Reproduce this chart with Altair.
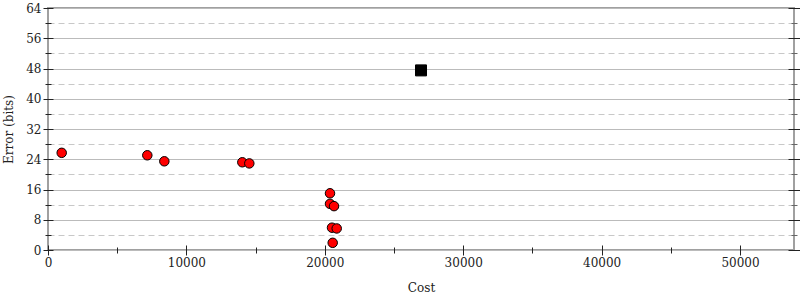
import altair as alt
import pandas as pd

# data
cost = [990, 7175, 8405, 14040, 14545, 20375, 20375, 20665, 20520, 20860, 20570]
error = [25.7, 25.05, 23.46, 23.2, 22.9, 15.0, 12.2, 11.6, 5.9, 5.7, 1.9]
sq_cost = [26950]
sq_error = [47.5]

x_major = [0, 10000, 20000, 30000, 40000, 50000]
x_minor = [5000, 15000, 25000, 35000, 45000]
y_major = [0, 8, 16, 24, 32, 40, 48, 56, 64]
y_minor = [4, 12, 20, 28, 36, 44, 52, 60]

pts = pd.DataFrame({"Cost": cost, "Error": error})
sq = pd.DataFrame({"Cost": sq_cost, "Error": sq_error})

FONT = "DejaVu Serif"
xs = alt.Scale(domain=[0, 53900], nice=False, zero=False)
ys = alt.Scale(domain=[0, 64], nice=False, zero=False)

circles = alt.Chart(pts).mark_point(
    shape="circle", filled=True, fill="#ff0000", stroke="#000000",
    strokeWidth=1, size=90, opacity=1
).encode(
    x=alt.X("Cost:Q", scale=xs, title="Cost",
            axis=alt.Axis(orient="bottom", values=x_major, offset=-5, tickSize=10,
                          domain=False, grid=False, labelPadding=2, titlePadding=14,
                          format="d", labelFlush=False)),
    y=alt.Y("Error:Q", scale=ys, title="Error (bits)",
            axis=alt.Axis(orient="left", values=y_major, offset=-5, tickSize=10,
                          domain=False, grid=True, gridColor="#bbbbbb", gridWidth=1,
                          labelPadding=2, titlePadding=10, format="d", labelFlush=False)),
)

square = alt.Chart(sq).mark_point(
    shape="square", filled=True, fill="#000000", stroke="#000000",
    strokeWidth=1, size=121, opacity=1
).encode(
    x=alt.X("Cost:Q", scale=xs, title=None,
            axis=alt.Axis(orient="bottom", values=x_minor, offset=-3, tickSize=6,
                          domain=False, grid=False, labels=False)),
    y=alt.Y("Error:Q", scale=ys, title=None,
            axis=alt.Axis(orient="left", values=y_minor, offset=-3, tickSize=6,
                          domain=False, grid=True, gridColor="#c8c8c8", gridWidth=1,
                          gridDash=[6, 4], labels=False)),
)

right_major = alt.Chart(pts).mark_point(opacity=0).encode(
    x=alt.X("Cost:Q", scale=xs, axis=None),
    y=alt.Y("Error:Q", scale=ys, title=None,
            axis=alt.Axis(orient="right", values=y_major, offset=-6, tickSize=12,
                          domain=False, grid=False, labels=False)),
)

right_minor = alt.Chart(pts).mark_point(opacity=0).encode(
    x=alt.X("Cost:Q", scale=xs, axis=None),
    y=alt.Y("Error:Q", scale=ys, title=None,
            axis=alt.Axis(orient="right", values=y_minor, offset=-3, tickSize=6,
                          domain=False, grid=False, labels=False, tickColor="#666666")),
)

chart = alt.layer(right_major, right_minor, square, circles).resolve_axis(
    x="independent", y="independent"
).properties(
    width=746, height=242,
    padding={"left": 48, "top": 8, "right": 6, "bottom": 50},
    autosize=alt.AutoSizeParams(type="none"),
).configure_view(
    stroke="#a0a0a0", strokeWidth=2
).configure_axis(
    labelFont=FONT, titleFont=FONT, labelFontSize=12, titleFontSize=12,
    titleFontWeight="normal", labelColor="#222222", titleColor="#222222",
    tickColor="#222222", tickWidth=1
)

chart.save("out.html", embed_options={"renderer": "svg", "actions": False})
